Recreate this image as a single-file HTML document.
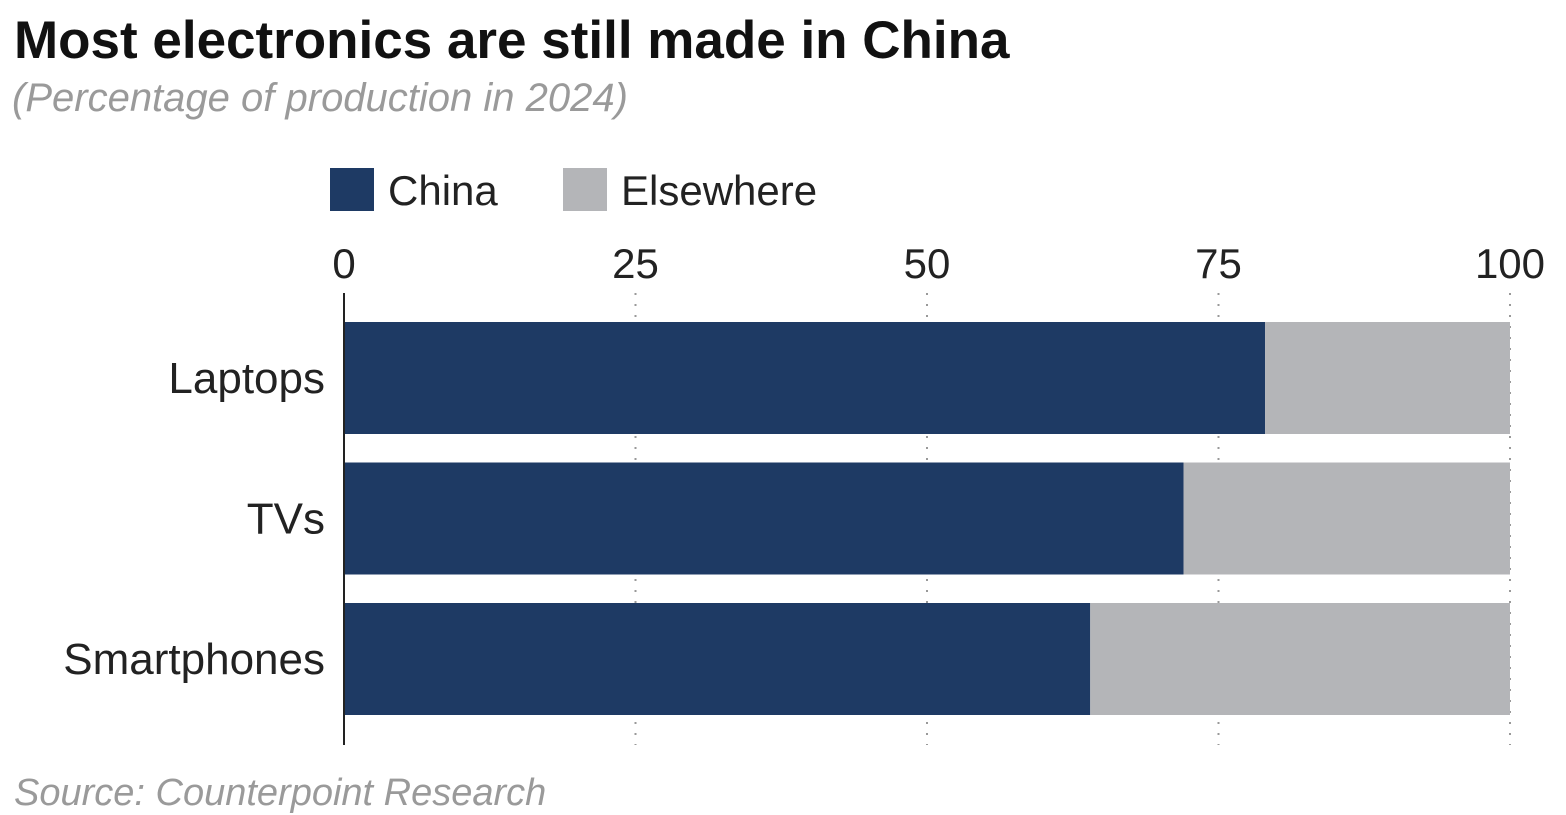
<!DOCTYPE html>
<html><head><meta charset="utf-8"><style>
body{margin:0;width:1566px;height:810px;overflow:hidden;background:#fff;font-family:"Liberation Sans",sans-serif;}
.t{position:absolute;white-space:nowrap;}
</style></head><body>
<div class="t" style="left:14px;top:10px;font-size:53px;font-weight:bold;color:#111;">Most electronics are still made in China</div>
<div class="t" style="left:12px;top:76px;font-size:40px;font-style:italic;color:#9a9a9a;">(Percentage of production in 2024)</div>
<div class="t" style="left:330px;top:167px;font-size:42px;color:#222;"><span style="display:inline-block;width:44px;height:43px;background:#1e3a64;vertical-align:-6px;margin-right:14px"></span>China</div>
<div class="t" style="left:563px;top:167px;font-size:42px;color:#222;"><span style="display:inline-block;width:44px;height:43px;background:#b4b5b8;vertical-align:-6px;margin-right:14px"></span>Elsewhere</div>
<div class="t" style="left:14px;top:772px;font-size:38px;font-style:italic;color:#9a9a9a;">Source: Counterpoint Research</div>
<svg id="c" width="1566" height="810" style="position:absolute;left:0;top:0"></svg>
<script>
const categories=["Laptops","TVs","Smartphones"];
const chinaValues=[79,72,64];
const elsewhereValues=[21,28,36];
const tickValues=[0,25,50,75,100];
const ns="http://www.w3.org/2000/svg";
const svg=document.getElementById('c');
const x=v=>344+v*11.66;
const yTop=i=>322+i*140.5;
const bh=112;
function mk(t,a){const e=document.createElementNS(ns,t);for(const k in a)e.setAttribute(k,a[k]);svg.appendChild(e);return e;}
tickValues.forEach(v=>{
  if(v>0){const g=mk('line',{x1:x(v),x2:x(v),y1:293,y2:745,stroke:'#999','stroke-width':2,'stroke-dasharray':'2,9'});
  
  }
  const t=mk('text',{x:x(v),y:278,'font-size':42,'text-anchor':'middle',fill:'#222','font-family':'Liberation Sans'});
  t.textContent=v;
  
  
});
categories.forEach((c,i)=>{
  const a=mk('rect',{x:x(0),y:yTop(i),width:x(chinaValues[i])-x(0),height:bh,fill:'#1e3a64'});
  
  
  const b=mk('rect',{x:x(chinaValues[i]),y:yTop(i),width:x(chinaValues[i]+elsewhereValues[i])-x(chinaValues[i]),height:bh,fill:'#b4b5b8'});
  
  
  const t=mk('text',{x:325,y:yTop(i)+bh/2+15,'font-size':44,'text-anchor':'end',fill:'#222','font-family':'Liberation Sans'});
  t.textContent=c;
  
  
});
const ax=mk('line',{x1:x(0),x2:x(0),y1:293,y2:745,stroke:'#222','stroke-width':2});


</script>
</body></html>
